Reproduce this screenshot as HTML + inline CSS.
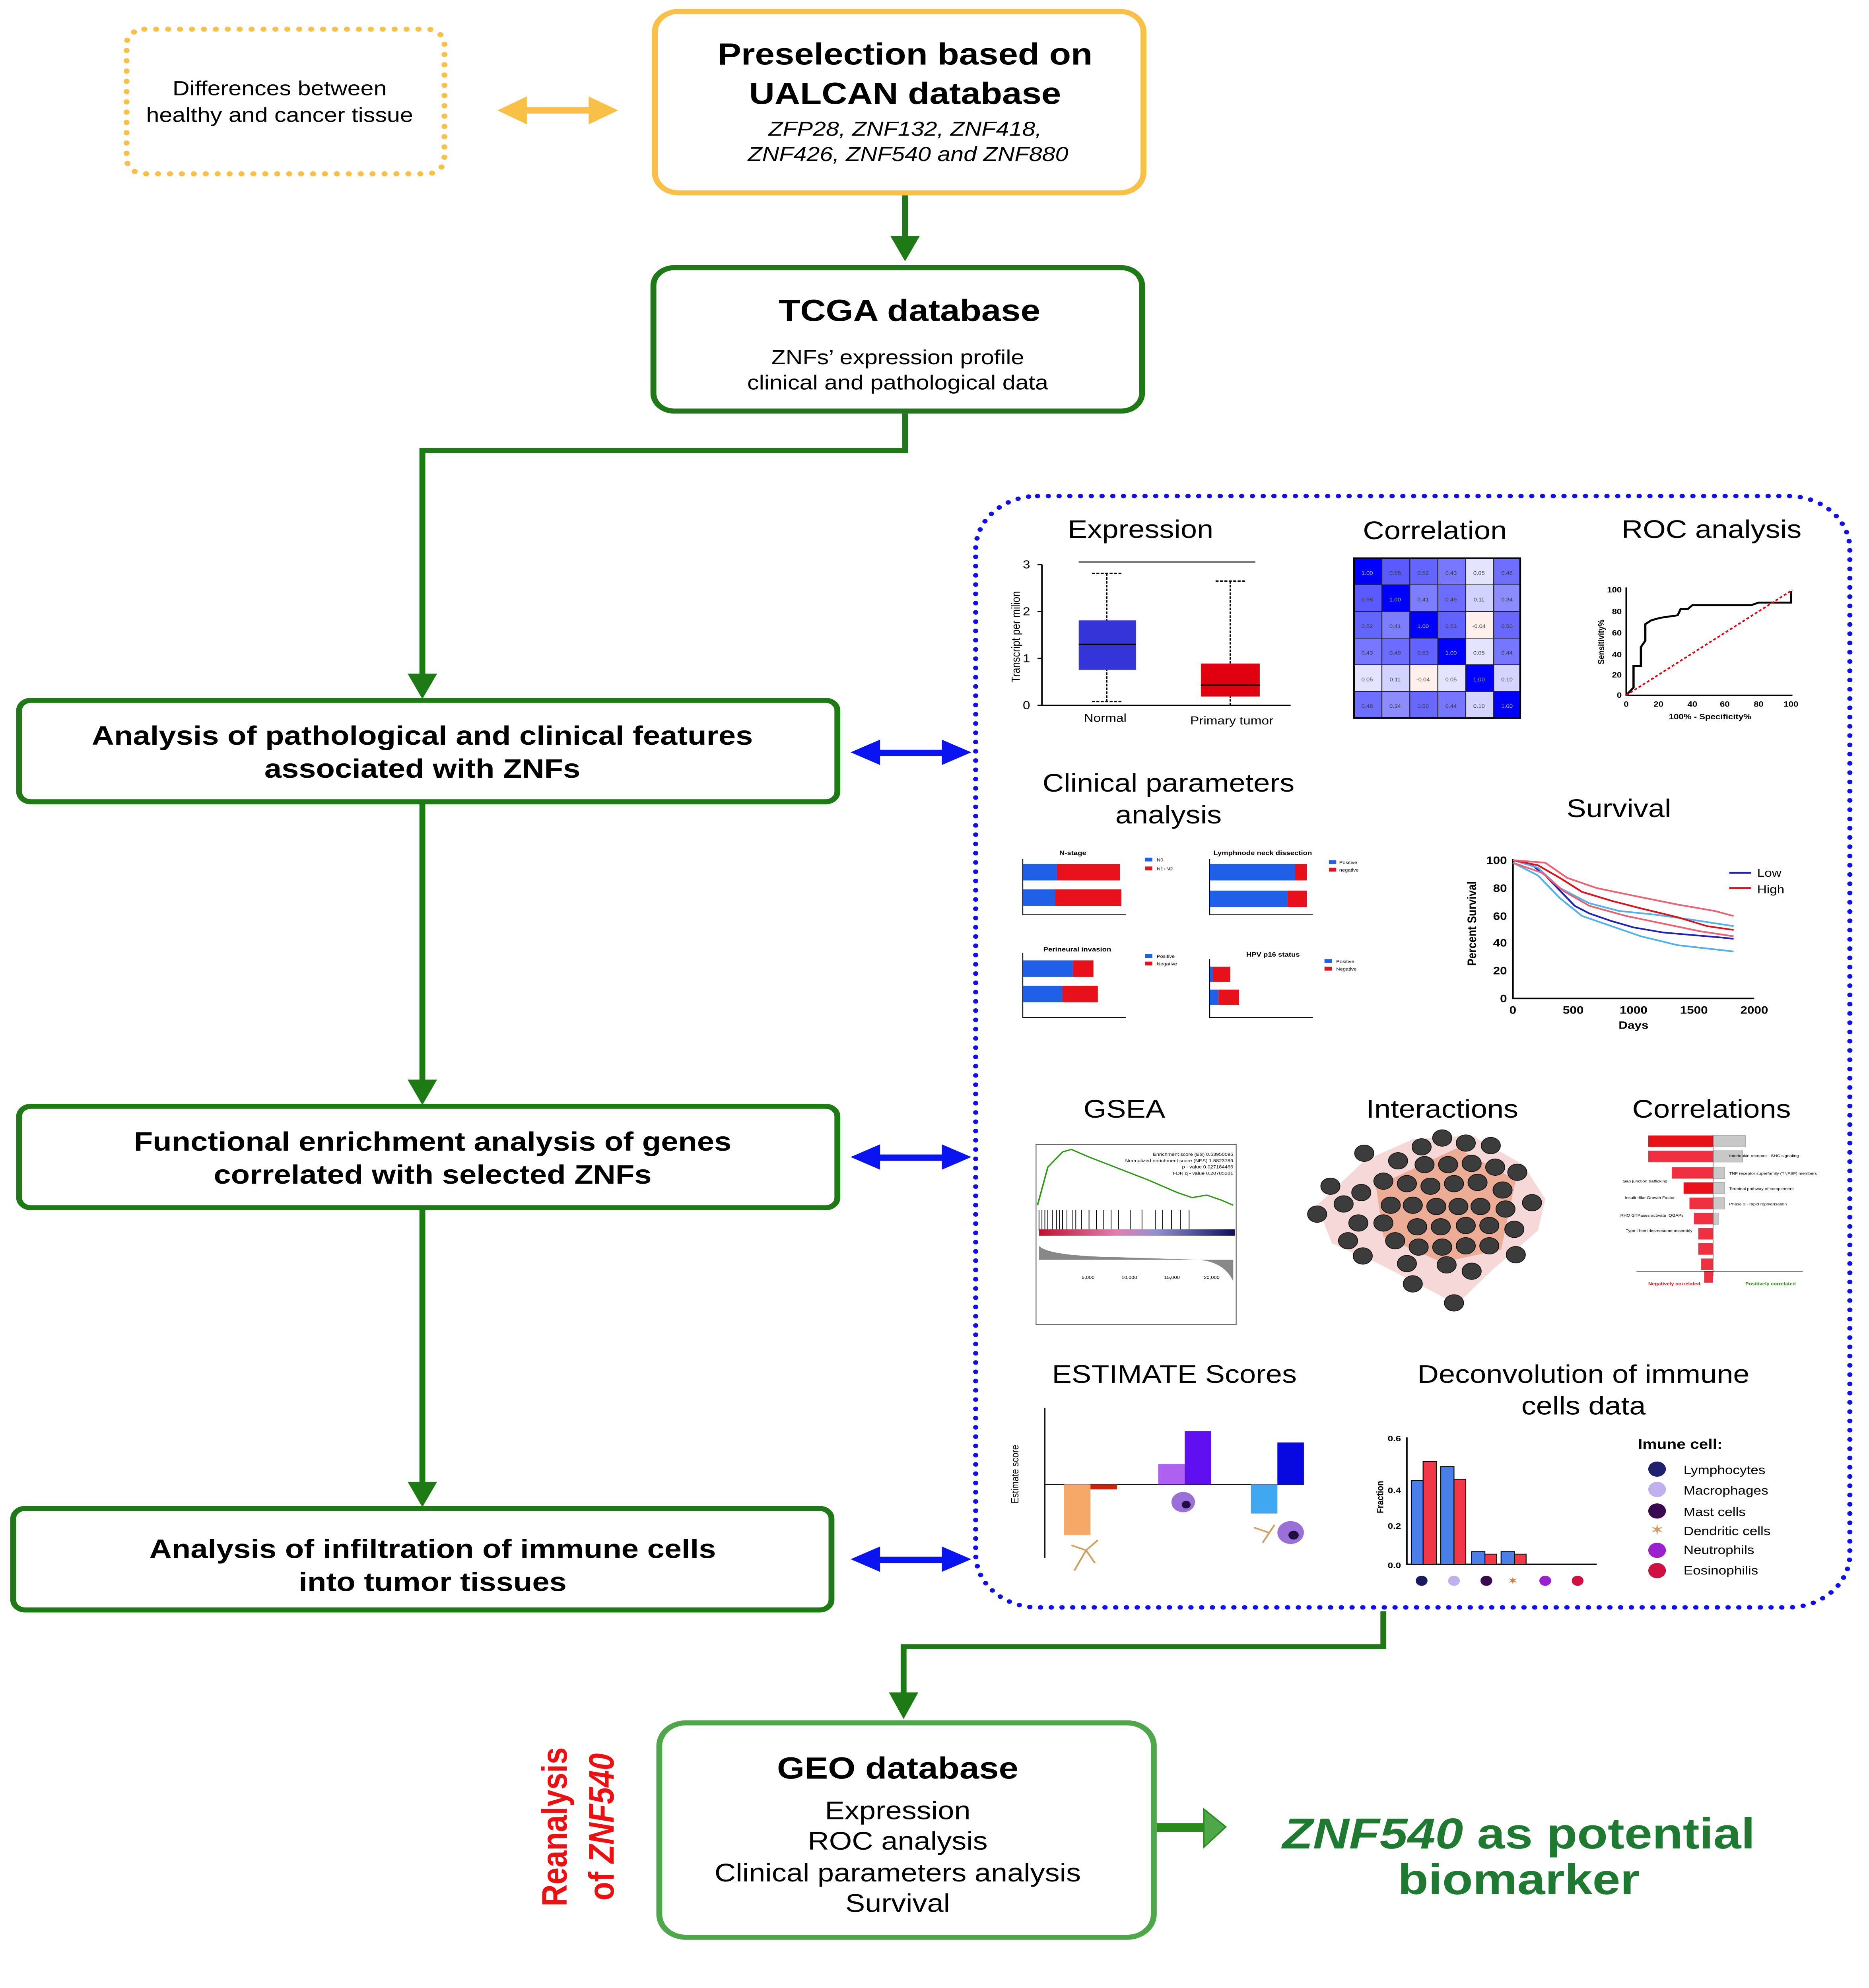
<!DOCTYPE html>
<html><head><meta charset="utf-8"><style>
html,body{margin:0;padding:0;background:#fff;overflow:hidden;width:100%;height:100%;}
svg{display:block;position:fixed;left:0;top:0;width:100vw;height:100vh;}
text{font-family:"Liberation Sans",sans-serif;}
</style></head><body>
<svg viewBox="0 0 1270 1567" preserveAspectRatio="none" xmlns="http://www.w3.org/2000/svg">
<!-- top left dotted box -->
<rect x="86" y="23" width="216" height="114" rx="12" fill="none" stroke="#f9c048" stroke-width="4" stroke-dasharray="0.1 8" stroke-linecap="round"/>
<text x="190" y="75" font-size="16" text-anchor="middle">Differences between</text>
<text x="190" y="96" font-size="16" text-anchor="middle">healthy and cancer tissue</text>
<path d="M350,87 H408" stroke="#f9c048" stroke-width="5"/>
<path d="M338,87 L358,76 L358,98z M420,87 L400,76 L400,98z" fill="#f9c048"/>
<rect x="445" y="9" width="332" height="143" rx="16" fill="#fff" stroke="#f9c048" stroke-width="4"/>
<text x="615" y="51" font-size="24" font-weight="bold" text-anchor="middle">Preselection based on</text>
<text x="615" y="82" font-size="24" font-weight="bold" text-anchor="middle">UALCAN database</text>
<text x="615" y="107" font-size="16" font-style="italic" text-anchor="middle">ZFP28, ZNF132, ZNF418,</text>
<text x="617" y="127" font-size="16" font-style="italic" text-anchor="middle">ZNF426, ZNF540 and ZNF880</text>
<g stroke="#1e7a14" stroke-width="4" fill="none">
<path d="M615,154 V190"/>
<path d="M615,326 V355 H287 V535"/>
<path d="M287,634 V855"/>
<path d="M287,954 V1172"/>
<path d="M940,1270 V1298 H614 V1338"/>
</g>
<g fill="#1e7a14">
<path d="M605,186 L625,186 L615,206z"/>
<path d="M277,531 L297,531 L287,551z"/>
<path d="M277,851 L297,851 L287,871z"/>
<path d="M277,1168 L297,1168 L287,1188z"/>
<path d="M604,1334 L624,1334 L614,1355z"/>
</g>
<rect x="444" y="211" width="332" height="113" rx="14" fill="#fff" stroke="#1e7a14" stroke-width="4"/>
<text x="618" y="253" font-size="24" font-weight="bold" text-anchor="middle">TCGA database</text>
<text x="610" y="287" font-size="16" text-anchor="middle">ZNFs’ expression profile</text>
<text x="610" y="307" font-size="16" text-anchor="middle">clinical and pathological data</text>
<rect x="13" y="552" width="556" height="80" rx="8" fill="#fff" stroke="#1e7a14" stroke-width="4"/>
<text x="287" y="587" font-size="21" font-weight="bold" text-anchor="middle">Analysis of pathological and clinical features</text>
<text x="287" y="613" font-size="21" font-weight="bold" text-anchor="middle">associated with ZNFs</text>
<rect x="13" y="872" width="556" height="80" rx="8" fill="#fff" stroke="#1e7a14" stroke-width="4"/>
<text x="294" y="907" font-size="21" font-weight="bold" text-anchor="middle">Functional enrichment analysis of genes</text>
<text x="294" y="933" font-size="21" font-weight="bold" text-anchor="middle">correlated with selected ZNFs</text>
<rect x="9" y="1189" width="556" height="80" rx="8" fill="#fff" stroke="#1e7a14" stroke-width="4"/>
<text x="294" y="1228" font-size="21" font-weight="bold" text-anchor="middle">Analysis of infiltration of immune cells</text>
<text x="294" y="1254" font-size="21" font-weight="bold" text-anchor="middle">into tumor tissues</text>
<g fill="#0a14f0">
<rect x="592" y="591" width="54" height="5"/><path d="M578,593 L598,583 L598,603z M660,593 L640,583 L640,603z"/>
<rect x="592" y="910" width="54" height="5"/><path d="M578,912 L598,902 L598,922z M660,912 L640,902 L640,922z"/>
<rect x="592" y="1227" width="54" height="5"/><path d="M578,1229 L598,1219 L598,1239z M660,1229 L640,1219 L640,1239z"/>
</g>
<rect x="663" y="391" width="594" height="876" rx="42" fill="none" stroke="#1010ee" stroke-width="3.5" stroke-dasharray="0.1 7.2" stroke-linecap="round"/>

<!-- Expression -->
<text x="775" y="424" font-size="20" text-anchor="middle">Expression</text>
<g stroke="#000" stroke-width="1" fill="none">
<path d="M708,445 V556 H877"/><path d="M705,445 H708 M705,482 H708 M705,519 H708 M705,556 H708"/>
<path d="M733,443 H853" stroke="#555"/>
<path d="M752,452 V553 M742,452 H762 M742,553 H762" stroke-dasharray="2 1"/>
<path d="M836,458 V556 M826,458 H846" stroke-dasharray="2 1"/>
</g>
<rect x="733" y="489" width="39" height="39" fill="#3434d8"/><path d="M733,508 H772" stroke="#000" stroke-width="1.3"/>
<rect x="816" y="523" width="40" height="26" fill="#e00010"/><path d="M816,540 H856" stroke="#000" stroke-width="1.3"/>
<g font-size="9"><text x="700" y="448" text-anchor="end">3</text><text x="700" y="485" text-anchor="end">2</text><text x="700" y="522" text-anchor="end">1</text><text x="700" y="559" text-anchor="end">0</text>
<text x="751" y="569" text-anchor="middle">Normal</text><text x="837" y="571" text-anchor="middle">Primary tumor</text>
<text transform="translate(693,502) rotate(-90)" font-size="8" text-anchor="middle">Transcript per milion</text></g>

<!-- Correlation -->
<text x="975" y="425" font-size="20" text-anchor="middle">Correlation</text>
<g stroke="#222" stroke-width="0.6">
<rect x="920" y="440" width="19" height="21" fill="#0000ff"/><rect x="939" y="440" width="19" height="21" fill="#5a5aff"/><rect x="958" y="440" width="19" height="21" fill="#6464ff"/><rect x="977" y="440" width="19" height="21" fill="#7878ff"/><rect x="996" y="440" width="19" height="21" fill="#e4e4ff"/><rect x="1015" y="440" width="18" height="21" fill="#6e6eff"/>
<rect x="920" y="461" width="19" height="21" fill="#5a5aff"/><rect x="939" y="461" width="19" height="21" fill="#0000ff"/><rect x="958" y="461" width="19" height="21" fill="#7d7dff"/><rect x="977" y="461" width="19" height="21" fill="#6c6cff"/><rect x="996" y="461" width="19" height="21" fill="#d2d2ff"/><rect x="1015" y="461" width="18" height="21" fill="#8c8cff"/>
<rect x="920" y="482" width="19" height="21" fill="#6464ff"/><rect x="939" y="482" width="19" height="21" fill="#7d7dff"/><rect x="958" y="482" width="19" height="21" fill="#0000ff"/><rect x="977" y="482" width="19" height="21" fill="#6262ff"/><rect x="996" y="482" width="19" height="21" fill="#fff0ee"/><rect x="1015" y="482" width="18" height="21" fill="#6868ff"/>
<rect x="920" y="503" width="19" height="21" fill="#7878ff"/><rect x="939" y="503" width="19" height="21" fill="#6c6cff"/><rect x="958" y="503" width="19" height="21" fill="#6262ff"/><rect x="977" y="503" width="19" height="21" fill="#0000ff"/><rect x="996" y="503" width="19" height="21" fill="#e4e4ff"/><rect x="1015" y="503" width="18" height="21" fill="#7676ff"/>
<rect x="920" y="524" width="19" height="21" fill="#e4e4ff"/><rect x="939" y="524" width="19" height="21" fill="#d2d2ff"/><rect x="958" y="524" width="19" height="21" fill="#fff0ee"/><rect x="977" y="524" width="19" height="21" fill="#e4e4ff"/><rect x="996" y="524" width="19" height="21" fill="#0000ff"/><rect x="1015" y="524" width="18" height="21" fill="#d4d4ff"/>
<rect x="920" y="545" width="19" height="21" fill="#6e6eff"/><rect x="939" y="545" width="19" height="21" fill="#8c8cff"/><rect x="958" y="545" width="19" height="21" fill="#6868ff"/><rect x="977" y="545" width="19" height="21" fill="#7676ff"/><rect x="996" y="545" width="19" height="21" fill="#d4d4ff"/><rect x="1015" y="545" width="18" height="21" fill="#0000ff"/>
</g>
<g font-size="4" fill="#333" text-anchor="middle">
<text x="929" y="453" fill="#ccc">1.00</text><text x="948" y="453">0.58</text><text x="967" y="453">0.52</text><text x="986" y="453">0.43</text><text x="1005" y="453">0.05</text><text x="1024" y="453">0.48</text>
<text x="929" y="474">0.58</text><text x="948" y="474" fill="#ccc">1.00</text><text x="967" y="474">0.41</text><text x="986" y="474">0.49</text><text x="1005" y="474">0.11</text><text x="1024" y="474">0.34</text>
<text x="929" y="495">0.52</text><text x="948" y="495">0.41</text><text x="967" y="495" fill="#ccc">1.00</text><text x="986" y="495">0.53</text><text x="1005" y="495">-0.04</text><text x="1024" y="495">0.50</text>
<text x="929" y="516">0.43</text><text x="948" y="516">0.49</text><text x="967" y="516">0.53</text><text x="986" y="516" fill="#ccc">1.00</text><text x="1005" y="516">0.05</text><text x="1024" y="516">0.44</text>
<text x="929" y="537">0.05</text><text x="948" y="537">0.11</text><text x="967" y="537">-0.04</text><text x="986" y="537">0.05</text><text x="1005" y="537" fill="#ccc">1.00</text><text x="1024" y="537">0.10</text>
<text x="929" y="558">0.48</text><text x="948" y="558">0.34</text><text x="967" y="558">0.50</text><text x="986" y="558">0.44</text><text x="1005" y="558">0.10</text><text x="1024" y="558" fill="#ccc">1.00</text>
</g>
<rect x="920" y="440" width="113" height="126" fill="none" stroke="#000" stroke-width="1.2"/>

<!-- ROC -->
<text x="1163" y="424" font-size="20" text-anchor="middle">ROC analysis</text>
<g stroke="#000" stroke-width="1" fill="none"><path d="M1105,463 V548 H1218"/>
<path d="M1105,548 L1110,542 L1110,525 L1115,525 L1115,510 L1118,505 L1118,492 L1122,489 L1128,487 L1140,485 L1142,480 L1147,480 L1150,477 L1190,477 L1195,475 L1217,475 L1217,466" stroke-width="1.5"/></g>
<path d="M1105,548 L1218,465" stroke="#e00010" stroke-width="1.2" stroke-dasharray="2 1.5"/>
<g font-size="6" font-weight="bold"><text x="1102" y="467" text-anchor="end">100</text><text x="1102" y="484" text-anchor="end">80</text><text x="1102" y="501" text-anchor="end">60</text><text x="1102" y="518" text-anchor="end">40</text><text x="1102" y="534" text-anchor="end">20</text><text x="1102" y="550" text-anchor="end">0</text>
<text x="1105" y="557" text-anchor="middle">0</text><text x="1127" y="557" text-anchor="middle">20</text><text x="1150" y="557" text-anchor="middle">40</text><text x="1172" y="557" text-anchor="middle">60</text><text x="1195" y="557" text-anchor="middle">80</text><text x="1217" y="557" text-anchor="middle">100</text>
<text x="1162" y="567" text-anchor="middle">100% - Specificity%</text>
<text transform="translate(1090,506) rotate(-90)" text-anchor="middle">Sensitivity%</text></g>

<!-- Clinical -->
<text x="794" y="624" font-size="20" text-anchor="middle">Clinical parameters</text>
<text x="794" y="649" font-size="20" text-anchor="middle">analysis</text>
<g font-size="5"><text x="729" y="674" text-anchor="middle" font-weight="bold">N-stage</text><text x="858" y="674" text-anchor="middle" font-weight="bold">Lymphnode neck dissection</text>
<text x="732" y="750" text-anchor="middle" font-weight="bold">Perineural invasion</text><text x="865" y="754" text-anchor="middle" font-weight="bold">HPV p16 status</text></g>
<g stroke="#000" stroke-width="0.6" fill="none"><path d="M695,677 V721 H765"/><path d="M822,677 V721 H892"/><path d="M695,751 V802 H765"/><path d="M822,756 V802 H892"/></g>
<g fill="#2060e8"><rect x="695" y="681" width="23" height="13"/><rect x="695" y="701" width="22" height="13"/><rect x="822" y="681" width="58" height="13"/><rect x="822" y="702" width="53" height="13"/><rect x="695" y="757" width="34" height="13"/><rect x="695" y="777" width="27" height="13"/><rect x="822" y="762" width="2" height="12"/><rect x="822" y="780" width="6" height="12"/>
<rect x="778" y="676" width="5" height="3"/><rect x="903" y="678" width="5" height="3"/><rect x="778" y="752" width="5" height="3"/><rect x="900" y="756" width="5" height="3"/></g>
<g fill="#e8101a"><rect x="718" y="681" width="43" height="13"/><rect x="717" y="701" width="45" height="13"/><rect x="880" y="681" width="8" height="13"/><rect x="875" y="702" width="13" height="13"/><rect x="729" y="757" width="14" height="13"/><rect x="722" y="777" width="24" height="13"/><rect x="824" y="762" width="12" height="12"/><rect x="828" y="780" width="14" height="12"/>
<rect x="778" y="683" width="5" height="3"/><rect x="903" y="684" width="5" height="3"/><rect x="778" y="758" width="5" height="3"/><rect x="900" y="762" width="5" height="3"/></g>
<g font-size="3.5"><text x="786" y="679">N0</text><text x="786" y="686">N1+N2</text><text x="910" y="681">Positive</text><text x="910" y="687">negative</text><text x="786" y="755">Positive</text><text x="786" y="761">Negative</text><text x="908" y="759">Positive</text><text x="908" y="765">Negative</text></g>

<!-- Survival -->
<text x="1100" y="644" font-size="20" text-anchor="middle">Survival</text>
<g stroke="#000" stroke-width="1.2" fill="none"><path d="M1028,677 V787 H1192"/></g>
<g font-size="8.5" font-weight="bold"><text x="1024" y="681" text-anchor="end">100</text><text x="1024" y="703" text-anchor="end">80</text><text x="1024" y="725" text-anchor="end">60</text><text x="1024" y="746" text-anchor="end">40</text><text x="1024" y="768" text-anchor="end">20</text><text x="1024" y="790" text-anchor="end">0</text>
<text x="1028" y="799" text-anchor="middle">0</text><text x="1069" y="799" text-anchor="middle">500</text><text x="1110" y="799" text-anchor="middle">1000</text><text x="1151" y="799" text-anchor="middle">1500</text><text x="1192" y="799" text-anchor="middle">2000</text>
<text x="1110" y="811" text-anchor="middle">Days</text>
<text transform="translate(1003,728) rotate(-90)" text-anchor="middle">Percent Survival</text></g>
<g fill="none" stroke-width="1.3">
<path d="M1028,678 L1040,681 L1050,690 L1060,702 L1070,714 L1080,720 L1095,726 L1110,731 L1130,735 L1150,737 L1170,739 L1178,740" stroke="#2020c0"/>
<path d="M1028,680 L1045,690 L1060,708 L1075,722 L1095,730 L1115,738 L1140,745 L1178,750" stroke="#4fb2ee"/>
<path d="M1028,678 L1045,684 L1060,700 L1080,712 L1100,718 L1125,721 L1150,725 L1178,730" stroke="#4fb2ee"/>
<path d="M1028,678 L1045,682 L1060,692 L1075,703 L1095,710 L1115,716 L1140,723 L1160,730 L1178,733" stroke="#e0101a"/>
<path d="M1028,678 L1050,680 L1065,692 L1085,700 L1110,706 L1140,713 L1165,718 L1178,722" stroke="#f06070"/>
<path d="M1028,680 L1048,688 L1062,702 L1080,714 L1105,722 L1130,728 L1155,734 L1178,738" stroke="#f06070"/>
</g>
<path d="M1175,688 H1190" stroke="#2020c0" stroke-width="1.5"/><path d="M1175,700 H1190" stroke="#e0101a" stroke-width="1.5"/>
<text x="1194" y="691" font-size="9">Low</text><text x="1194" y="704" font-size="9">High</text>

<!-- GSEA -->
<text x="764" y="881" font-size="20" text-anchor="middle">GSEA</text>
<rect x="704" y="902" width="136" height="142" fill="#fff" stroke="#666" stroke-width="0.6"/>
<path d="M705,950 L712,920 L722,908 L728,906 L740,912 L780,930 L800,940 L810,944 L820,942 L830,946 L838,950" stroke="#2a9a10" stroke-width="1" fill="none"/>
<g stroke="#000" stroke-width="0.5"><path d="M706,954 V970 M708,954 V970 M710,954 V970 M712,954 V970 M715,954 V970 M718,954 V970 M720,954 V970 M722,954 V970 M725,954 V970 M729,954 V970 M731,954 V970 M735,954 V970 M740,954 V970 M745,954 V970 M750,954 V970 M755,954 V970 M760,954 V970 M768,954 V970 M776,954 V970 M785,954 V970 M790,954 V970 M796,954 V970 M802,954 V970 M808,954 V970"/></g>
<defs><linearGradient id="gg"><stop offset="0" stop-color="#c01030"/><stop offset="0.4" stop-color="#e080b0"/><stop offset="0.6" stop-color="#9090d0"/><stop offset="1" stop-color="#10105a"/></linearGradient></defs>
<rect x="706" y="969" width="133" height="5" fill="url(#gg)"/>
<path d="M706,982 Q712,990 760,991 L815,993 Q832,995 838,1010 L838,993 L706,993z" fill="#888"/>
<g font-size="3.5"><text x="838" y="911" text-anchor="end">Enrichment score (ES) 0.53950095</text><text x="838" y="916" text-anchor="end">Normalized enrichment score (NES) 1.5823789</text><text x="838" y="921" text-anchor="end">p - value 0.027184466</text><text x="838" y="926" text-anchor="end">FDR q - value 0.20785281</text>
<text x="735" y="1008">5,000</text><text x="762" y="1008">10,000</text><text x="791" y="1008">15,000</text><text x="818" y="1008">20,000</text></g>

<!-- Interactions -->
<text x="980" y="881" font-size="20" text-anchor="middle">Interactions</text>
<path d="M927,915 L960,898 L1000,895 L1035,918 L1050,945 L1045,970 L1015,1000 L990,1028 L960,1010 L935,995 L905,980 L895,950z" fill="#f4c8c8" opacity="0.7"/>
<path d="M935,935 L990,905 L1030,930 L1020,985 L980,995 L940,975z" fill="#e8906a" opacity="0.6"/>
<g fill="#3c3c3c" stroke="#111" stroke-width="0.5">
<circle cx="966" cy="904" r="6.5"/><circle cx="980" cy="897" r="6.5"/><circle cx="996" cy="901" r="6.5"/><circle cx="1013" cy="903" r="6.5"/><circle cx="927" cy="909" r="6.5"/>
<circle cx="950" cy="915" r="6.5"/><circle cx="968" cy="918" r="6.5"/><circle cx="984" cy="918" r="6.5"/><circle cx="1000" cy="917" r="6.5"/><circle cx="1016" cy="920" r="6.5"/><circle cx="1031" cy="924" r="6.5"/>
<circle cx="940" cy="931" r="6.5"/><circle cx="956" cy="933" r="6.5"/><circle cx="972" cy="935" r="6.5"/><circle cx="988" cy="933" r="6.5"/><circle cx="1004" cy="932" r="6.5"/><circle cx="1021" cy="938" r="6.5"/><circle cx="904" cy="935" r="6.5"/>
<circle cx="925" cy="940" r="6.5"/><circle cx="945" cy="950" r="6.5"/><circle cx="960" cy="950" r="6.5"/><circle cx="976" cy="951" r="6.5"/><circle cx="991" cy="951" r="6.5"/><circle cx="1006" cy="951" r="6.5"/><circle cx="1023" cy="953" r="6.5"/><circle cx="1041" cy="948" r="6.5"/><circle cx="913" cy="949" r="6.5"/>
<circle cx="895" cy="957" r="6.5"/><circle cx="923" cy="964" r="6.5"/><circle cx="940" cy="964" r="6.5"/><circle cx="963" cy="967" r="6.5"/><circle cx="979" cy="967" r="6.5"/><circle cx="996" cy="966" r="6.5"/><circle cx="1012" cy="966" r="6.5"/><circle cx="1029" cy="969" r="6.5"/>
<circle cx="916" cy="978" r="6.5"/><circle cx="948" cy="978" r="6.5"/><circle cx="964" cy="983" r="6.5"/><circle cx="980" cy="983" r="6.5"/><circle cx="996" cy="982" r="6.5"/><circle cx="1012" cy="982" r="6.5"/>
<circle cx="926" cy="990" r="6.5"/><circle cx="956" cy="996" r="6.5"/><circle cx="983" cy="997" r="6.5"/><circle cx="1000" cy="1002" r="6.5"/><circle cx="1030" cy="989" r="6.5"/>
<circle cx="960" cy="1012" r="6.5"/><circle cx="988" cy="1027" r="6.5"/>
</g>

<!-- Correlations bars -->
<text x="1163" y="881" font-size="20" text-anchor="middle">Correlations</text>
<g fill="#f03040"><rect x="1120" y="895" width="44" height="9" fill="#e8101a"/><rect x="1120" y="907" width="44" height="9"/><rect x="1136" y="920" width="28" height="9"/><rect x="1144" y="932" width="20" height="9" fill="#e8101a"/><rect x="1148" y="944" width="16" height="9"/><rect x="1151" y="956" width="13" height="9"/><rect x="1154" y="968" width="10" height="9"/><rect x="1154" y="980" width="10" height="9"/><rect x="1156" y="992" width="8" height="9"/><rect x="1158" y="1002" width="6" height="9"/></g>
<g fill="#c8c8c8" stroke="#888" stroke-width="0.3"><rect x="1164" y="895" width="22" height="9"/><rect x="1164" y="907" width="20" height="9"/><rect x="1164" y="920" width="8" height="9"/><rect x="1164" y="932" width="8" height="9"/><rect x="1164" y="944" width="8" height="9"/><rect x="1164" y="956" width="4" height="9"/></g>
<path d="M1112,1002 H1225 M1164,895 V1006" stroke="#000" stroke-width="0.4"/>
<g font-size="3"><text x="1133" y="932" text-anchor="end">Gap junction trafficking</text><text x="1138" y="945" text-anchor="end">Insulin-like Growth Factor</text><text x="1144" y="959" text-anchor="end">RHO GTPases activate IQGAPs</text><text x="1150" y="971" text-anchor="end">Type I hemidesmosome assembly</text><text x="1175" y="912">Interleukin receptor - SHC signaling</text><text x="1175" y="926">TNF receptor superfamily (TNFSF) members</text><text x="1175" y="938">Terminal pathway of complement</text><text x="1175" y="950">Phase 3 - rapid repolarisation</text></g>
<text x="1120" y="1013" font-size="3.5" fill="#e8101a" font-weight="bold">Negatively correlated</text><text x="1186" y="1013" font-size="3.5" fill="#2a9a10" font-weight="bold">Positively correlated</text>

<!-- ESTIMATE -->
<text x="798" y="1090" font-size="20" text-anchor="middle">ESTIMATE Scores</text>
<path d="M710,1110 V1228 M710,1170 H886" stroke="#000" stroke-width="0.8" fill="none"/>
<rect x="723" y="1170" width="18" height="40" fill="#f5a868"/><rect x="741" y="1170" width="18" height="4" fill="#d02010"/>
<rect x="787" y="1154" width="18" height="16" fill="#b060f0"/><rect x="805" y="1128" width="18" height="42" fill="#6010f0"/>
<rect x="850" y="1170" width="18" height="23" fill="#40a8f0"/><rect x="868" y="1137" width="18" height="33" fill="#0808e0"/>
<circle cx="804" cy="1184" r="8" fill="#9a70d8"/><circle cx="806" cy="1186" r="3" fill="#201040"/>
<circle cx="877" cy="1208" r="9" fill="#9a70d8"/><circle cx="879" cy="1210" r="3.5" fill="#201040"/>
<path d="M730,1238 L738,1222 L746,1214 M738,1222 L728,1218 M738,1222 L744,1232" stroke="#d0a060" stroke-width="1.2" fill="none"/>
<path d="M858,1216 L866,1202 M862,1208 L852,1204" stroke="#d0a060" stroke-width="1.2" fill="none"/>
<text transform="translate(692,1162) rotate(-90)" font-size="7" text-anchor="middle">Estimate score</text>

<!-- Deconvolution -->
<text x="1076" y="1090" font-size="20" text-anchor="middle">Deconvolution of immune</text>
<text x="1076" y="1115" font-size="20" text-anchor="middle">cells data</text>
<path d="M956,1133 V1233 H1085" stroke="#000" stroke-width="1" fill="none"/>
<g font-size="6.5" font-weight="bold"><text x="952" y="1136" text-anchor="end">0.6</text><text x="952" y="1177" text-anchor="end">0.4</text><text x="952" y="1205" text-anchor="end">0.2</text><text x="952" y="1236" text-anchor="end">0.0</text>
<text transform="translate(940,1180) rotate(-90)" text-anchor="middle">Fraction</text></g>
<g stroke="#000" stroke-width="0.6"><rect x="959" y="1167" width="8" height="66" fill="#4a7ee8"/><rect x="967" y="1152" width="9" height="81" fill="#f03848"/><rect x="979" y="1156" width="9" height="77" fill="#4a7ee8"/><rect x="988" y="1166" width="8" height="67" fill="#f03848"/><rect x="1000" y="1223" width="9" height="10" fill="#4a7ee8"/><rect x="1009" y="1225" width="8" height="8" fill="#f03848"/><rect x="1020" y="1223" width="9" height="10" fill="#4a7ee8"/><rect x="1029" y="1225" width="8" height="8" fill="#f03848"/></g>
<circle cx="966" cy="1246" r="4" fill="#1a1a60"/><circle cx="988" cy="1246" r="4" fill="#c0b0f0"/><circle cx="1010" cy="1246" r="4" fill="#3a0a50"/><text x="1028" y="1249" font-size="9" fill="#d08040" text-anchor="middle">✶</text><circle cx="1050" cy="1246" r="4" fill="#9a20d0"/><circle cx="1072" cy="1246" r="4" fill="#d01040"/>
<text x="1113" y="1142" font-size="11" font-weight="bold">Imune cell:</text>
<g font-size="9.5"><text x="1144" y="1162">Lymphocytes</text><text x="1144" y="1178">Macrophages</text><text x="1144" y="1195">Mast cells</text><text x="1144" y="1210">Dendritic cells</text><text x="1144" y="1225">Neutrophils</text><text x="1144" y="1241">Eosinophilis</text></g>
<circle cx="1126" cy="1158" r="6" fill="#202070"/><circle cx="1126" cy="1174" r="6" fill="#c0b0f0"/><circle cx="1126" cy="1191" r="6" fill="#3a0a50"/><text x="1126" y="1210" font-size="12" fill="#d0a060" text-anchor="middle">✶</text><circle cx="1126" cy="1222" r="6" fill="#9a20d0"/><circle cx="1126" cy="1238" r="6" fill="#d01040"/>

<!-- GEO -->
<rect x="448" y="1358" width="336" height="169" rx="18" fill="#fff" stroke="#4ea84a" stroke-width="4"/>
<text x="610" y="1402" font-size="24" font-weight="bold" text-anchor="middle">GEO database</text>
<g font-size="20" text-anchor="middle"><text x="610" y="1434">Expression</text><text x="610" y="1458">ROC analysis</text><text x="610" y="1483">Clinical parameters analysis</text><text x="610" y="1507">Survival</text></g>
<rect x="786" y="1437" width="32" height="7" fill="#2a8a1c"/>
<path d="M818,1426 L833,1440 L818,1456z" fill="#4ea84a" stroke="#2a8a1c" stroke-width="1"/>
<text x="1032" y="1457" font-size="34" font-weight="bold" fill="#1e7a30" text-anchor="middle"><tspan font-style="italic">ZNF540</tspan> as potential</text>
<text x="1032" y="1493" font-size="34" font-weight="bold" fill="#1e7a30" text-anchor="middle">biomarker</text>
<text transform="translate(385,1440) rotate(-90)" font-size="24" font-weight="bold" fill="#ee1010" text-anchor="middle">Reanalysis</text>
<text transform="translate(417,1440) rotate(-90)" font-size="24" font-weight="bold" fill="#ee1010" text-anchor="middle">of <tspan font-style="italic">ZNF540</tspan></text>
</svg>
</body></html>
